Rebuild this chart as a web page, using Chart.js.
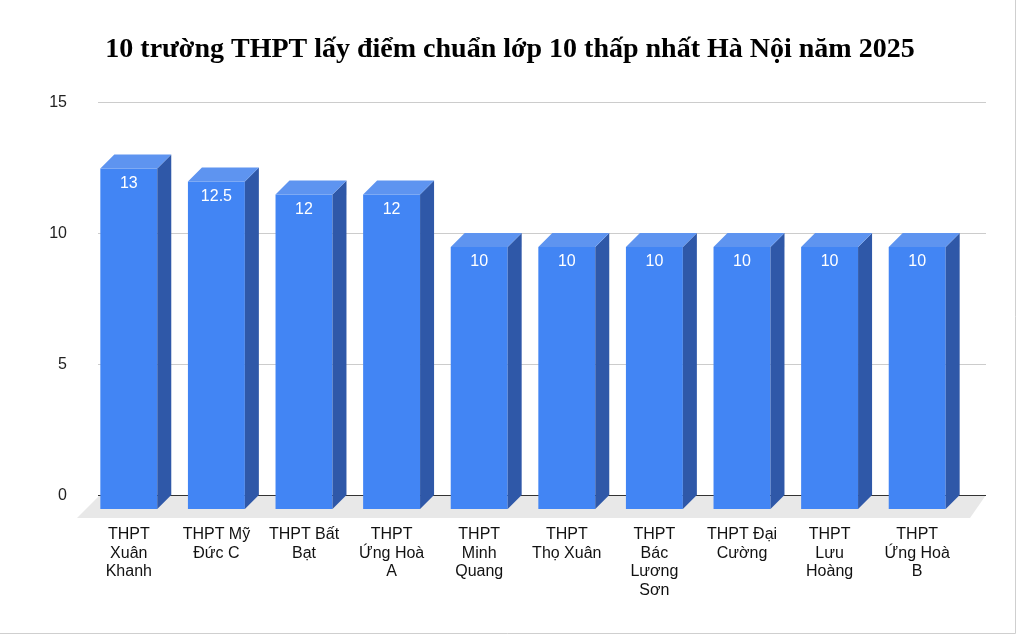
<!DOCTYPE html>
<html><head><meta charset="utf-8">
<script src="https://cdn.jsdelivr.net/npm/chart.js@4"></script>
<style>html,body{margin:0;background:#fff}#wrap{width:1020px;height:639px}</style>
</head><body><div id="wrap"><canvas id="myChart"></canvas></div>
<script>
const titleText = '10 trường THPT lấy điểm chuẩn lớp 10 thấp nhất Hà Nội năm 2025';
const categories = [
  ['THPT', 'Xuân', 'Khanh'], ['THPT Mỹ', 'Đức C'], ['THPT Bất', 'Bạt'], ['THPT', 'Ứng Hoà', 'A'],
  ['THPT', 'Minh', 'Quang'], ['THPT', 'Thọ Xuân'], ['THPT', 'Bác', 'Lương', 'Sơn'],
  ['THPT Đại', 'Cường'], ['THPT', 'Lưu', 'Hoàng'], ['THPT', 'Ứng Hoà', 'B']
];
const scores = [13, 12.5, 12, 12, 10, 10, 10, 10, 10, 10];
const yTicks = [0, 5, 10, 15];

const DX = 14, DY = -14;
const font = '"Liberation Sans", Arial, sans-serif';

const faces = {
  id: 'faces',
  beforeDatasetsDraw(chart) {
    const c = chart.ctx, y = chart.scales.y, a = chart.chartArea;
    c.save();
    // page frame
    c.strokeStyle = '#cfcfcf'; c.lineWidth = 1;
    c.beginPath(); c.moveTo(1015.5, 0); c.lineTo(1015.5, 633.5); c.lineTo(0, 633.5); c.stroke();
    // title
    c.fillStyle = '#000'; c.font = 'bold 28px "Liberation Serif", "Times New Roman", serif';
    c.textAlign = 'center'; c.textBaseline = 'middle';
    c.fillText(titleText, 510, 50);
    // floor
    const y0 = y.getPixelForValue(0);
    c.fillStyle = '#e8e8e8';
    c.beginPath();
    c.moveTo(77, y0 + 9); c.lineTo(970, y0 + 9); c.lineTo(986, y0 + DY); c.lineTo(100, y0 + DY);
    c.closePath(); c.fill();
    // grid on back plane
    yTicks.forEach(v => {
      const py = Math.round(y.getPixelForValue(v) + DY) + 0.5;
      c.strokeStyle = v === 0 ? '#333' : '#cccccc';
      c.lineWidth = 1;
      c.beginPath(); c.moveTo(98, py); c.lineTo(986, py); c.stroke();
      c.fillStyle = '#222'; c.font = '16px ' + font;
      c.textAlign = 'right'; c.textBaseline = 'middle';
      c.fillText(String(v), 67, py);
    });
    c.restore();
  },
  afterDatasetsDraw(chart) {
    const c = chart.ctx;
    const meta = chart.getDatasetMeta(0);
    c.save();
    meta.data.forEach((bar, i) => {
      const l = bar.x - bar.width / 2, r = bar.x + bar.width / 2, t = bar.y, b = bar.base;
      c.fillStyle = '#2f58a8';
      c.beginPath(); c.moveTo(r, t); c.lineTo(r + DX, t + DY); c.lineTo(r + DX, b + DY); c.lineTo(r, b); c.closePath(); c.fill();
      c.fillStyle = '#5e94f0';
      c.beginPath(); c.moveTo(l, t); c.lineTo(l + DX, t + DY); c.lineTo(r + DX, t + DY); c.lineTo(r, t); c.closePath(); c.fill();
      c.fillStyle = '#fff'; c.font = '16px ' + font;
      c.textAlign = 'center'; c.textBaseline = 'middle';
      c.fillText(String(scores[i]), bar.x, t + 15);
      c.fillStyle = '#111';
      categories[i].forEach((ln, k) => c.fillText(ln, bar.x, 535 + k * 18.5));
    });
    c.restore();
  }
};

new Chart(document.getElementById('myChart'), {
  type: 'bar',
  data: {
    labels: categories,
    datasets: [{ data: scores, backgroundColor: '#4285f4', borderWidth: 0,
      barPercentage: 0.65, categoryPercentage: 1 }]
  },
  options: {
    responsive: true, maintainAspectRatio: false, animation: false,
    layout: { padding: { left: 85, right: 59, top: 116, bottom: 130 } },
    plugins: { legend: { display: false }, tooltip: { enabled: false } },
    scales: {
      x: { display: false },
      y: { display: false, min: 0, max: 15 }
    }
  },
  plugins: [faces]
});
</script></body></html>
